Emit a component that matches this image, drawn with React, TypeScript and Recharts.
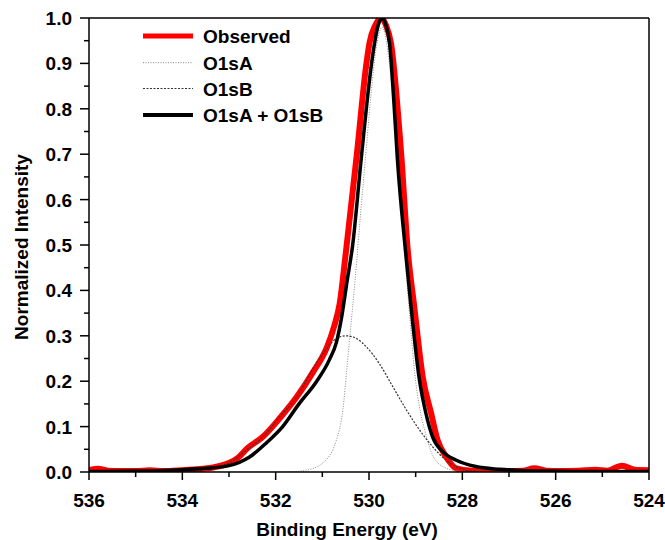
import React from 'react';
import { LineChart, Line, XAxis, YAxis, Legend } from 'recharts';

const FONT = '"Liberation Sans", Arial, Helvetica, sans-serif';

// Observed O1s spectrum
const observedEnergy = [536, 535.8, 535.6, 535.3, 535.0, 534.7, 534.4, 534.0, 533.7, 533.35, 533.0, 532.8, 532.6, 532.28, 531.9, 531.55, 531.2, 530.9, 530.75, 530.63, 530.49, 530.26, 530.06, 529.99, 529.86, 529.74, 529.64, 529.53, 529.31, 529.17, 529.03, 528.85, 528.67, 528.53, 528.35, 528.13, 527.8, 527.4, 527.0, 526.7, 526.46, 526.2, 525.9, 525.5, 525.15, 524.9, 524.58, 524.3, 524.0];
const observedIntensity = [0.004, 0.007, 0.003, 0.002, 0.002, 0.004, 0.002, 0.004, 0.006, 0.01, 0.02, 0.032, 0.053, 0.077, 0.12, 0.165, 0.22, 0.275, 0.32, 0.37, 0.489, 0.7, 0.896, 0.945, 0.985, 1.0, 0.985, 0.945, 0.7, 0.489, 0.364, 0.21, 0.13, 0.07, 0.034, 0.008, 0.003, 0.002, 0.002, 0.003, 0.008, 0.003, 0.002, 0.003, 0.005, 0.003, 0.014, 0.005, 0.004];

// O1sA component (narrow)
const o1sAEnergy = [533.5, 532.5, 531.6, 531.34, 530.99, 530.7, 530.56, 530.47, 530.4, 530.3, 530.18, 530.06, 529.95, 529.85, 529.72, 529.6, 529.45, 529.3, 529.15, 529.0, 528.92, 528.81, 528.67, 528.42, 528.13, 527.8, 527.0];
const o1sAIntensity = [0, 0, 0.001, 0.004, 0.02, 0.07, 0.137, 0.232, 0.31, 0.42, 0.57, 0.71, 0.84, 0.93, 0.98, 0.93, 0.78, 0.57, 0.37, 0.2, 0.144, 0.093, 0.045, 0.012, 0.003, 0.001, 0];

// O1sB component (broad)
const o1sBEnergy = [534.0, 533.4, 533.0, 532.6, 532.28, 531.91, 531.55, 531.2, 530.99, 530.75, 530.49, 530.25, 530.06, 529.78, 529.49, 529.2, 528.92, 528.64, 528.35, 528.06, 527.8, 527.5];
const o1sBIntensity = [0.001, 0.008, 0.02, 0.05, 0.077, 0.122, 0.165, 0.228, 0.26, 0.29, 0.3, 0.293, 0.276, 0.239, 0.188, 0.137, 0.093, 0.056, 0.026, 0.008, 0.002, 0];

// O1sA + O1sB fit
const sumEnergy = [536, 535, 534.5, 534, 533.5, 533.0, 532.56, 532.2, 531.85, 531.5, 531.12, 530.85, 530.7, 530.58, 530.47, 530.35, 530.17, 529.95, 529.88, 529.8, 529.72, 529.64, 529.56, 529.47, 529.39, 529.22, 529.1, 528.92, 528.78, 528.64, 528.42, 528.13, 527.71, 527.2, 526.64, 526.0, 525.0, 524.0];
const sumIntensity = [0.001, 0.002, 0.003, 0.005, 0.008, 0.014, 0.033, 0.064, 0.1, 0.15, 0.2, 0.247, 0.285, 0.345, 0.42, 0.5, 0.687, 0.896, 0.945, 0.985, 1.0, 0.985, 0.945, 0.82, 0.687, 0.489, 0.364, 0.203, 0.129, 0.078, 0.045, 0.026, 0.012, 0.006, 0.003, 0.002, 0.001, 0.001];

const xTicks = [524, 525, 526, 527, 528, 529, 530, 531, 532, 533, 534, 535, 536];
const yTicks = Array.from({ length: 21 }, (_, i) => i * 0.05);

const toPoints = (xs: number[], ys: number[]) => xs.map((x, i) => ({ x, y: ys[i] }));

const series = [
  { name: 'Observed', data: toPoints(observedEnergy, observedIntensity), stroke: '#ff0000', width: 6, dash: undefined },
  { name: 'O1sA', data: toPoints(o1sAEnergy, o1sAIntensity), stroke: '#8a8a8a', width: 1, dash: '1 1.5' },
  { name: 'O1sB', data: toPoints(o1sBEnergy, o1sBIntensity), stroke: '#333333', width: 1.2, dash: '2 1.5' },
  { name: 'O1sA + O1sB', data: toPoints(sumEnergy, sumIntensity), stroke: '#000000', width: 3.5, dash: undefined },
];

function BottomTick(props: any) {
  const { x, y, payload } = props;
  const v = payload.value;
  const major = Math.round(v) % 2 === 0;
  const axisY = y - 9;
  return (
    <g>
      <line x1={x} x2={x} y1={axisY} y2={axisY + (major ? 8 : 5)} stroke="#000" strokeWidth={1.5} />
      {major && (
        <text x={x} y={axisY + 35} textAnchor="middle" fontSize={19} fontWeight="bold" fontFamily={FONT} fill="#000">
          {v}
        </text>
      )}
    </g>
  );
}

function LeftTick(props: any) {
  const { x, y, payload } = props;
  const v = payload.value;
  const major = Math.round(v * 100) % 10 === 0;
  const axisX = x + 17;
  return (
    <g>
      <line x1={axisX} x2={axisX - (major ? 9 : 5)} y1={y} y2={y} stroke="#000" strokeWidth={1.5} />
      {major && (
        <text x={x} y={y} dy={7} textAnchor="end" fontSize={19} fontWeight="bold" fontFamily={FONT} fill="#000">
          {v.toFixed(1)}
        </text>
      )}
    </g>
  );
}

function TopTick(props: any) {
  const { x, y } = props;
  return <line x1={x} x2={x} y1={y + 3} y2={y} stroke="#000" strokeWidth={1.5} />;
}

function RightTick(props: any) {
  const { x, y } = props;
  return <line x1={x - 3} x2={x} y1={y} y2={y} stroke="#000" strokeWidth={1.5} />;
}

function LegendBox() {
  const rows = [36, 62.7, 88.5, 115];
  return (
    <svg width={400} height={140} style={{ display: 'block' }}>
      {series.map((s, i) => (
        <g key={s.name}>
          <line x1={143} x2={193} y1={rows[i]} y2={rows[i]} stroke={s.stroke} strokeWidth={s.name === 'Observed' ? 5 : s.width === 3.5 ? 4 : s.width} strokeDasharray={s.dash} />
          <text x={203} y={rows[i]} dy={7} fontSize={19} fontWeight="bold" fontFamily={FONT} fill="#000">
            {s.name}
          </text>
        </g>
      ))}
    </svg>
  );
}

export default function App() {
  return (
    <div style={{ position: 'absolute', left: 0, top: 0, background: '#fff' }}>
      <LineChart width={665} height={540} margin={{ top: 12, right: 10, bottom: 8, left: 9 }}>
        <XAxis
          dataKey="x"
          type="number"
          domain={[524, 536]}
          reversed
          ticks={xTicks}
          interval={0}
          height={60}
          tickSize={9}
          tickMargin={0}
          tickLine={false}
          tick={<BottomTick />}
          axisLine={{ stroke: '#000', strokeWidth: 1.5 }}
          allowDataOverflow
          label={{
            content: () => (
              <text x={347} y={536} textAnchor="middle" fontSize={19} fontWeight="bold" fontFamily={FONT} fill="#000">
                Binding Energy (eV)
              </text>
            ),
          }}
        />
        <XAxis
          xAxisId="top"
          orientation="top"
          dataKey="x"
          type="number"
          domain={[524, 536]}
          reversed
          ticks={xTicks}
          interval={0}
          height={6}
          tickSize={0}
          tickMargin={0}
          tickLine={false}
          tick={<TopTick />}
          axisLine={{ stroke: '#000', strokeWidth: 1.5 }}
        />
        <YAxis
          type="number"
          domain={[0, 1]}
          ticks={yTicks}
          interval={0}
          width={80}
          tickSize={9}
          tickMargin={8}
          tickLine={false}
          tick={<LeftTick />}
          axisLine={{ stroke: '#000', strokeWidth: 1.5 }}
          allowDataOverflow
          label={{
            content: () => (
              <text
                x={21}
                y={247}
                dy={7}
                transform="rotate(-90, 21, 247)"
                textAnchor="middle"
                fontSize={19}
                fontWeight="bold"
                fontFamily={FONT}
                fill="#000"
              >
                Normalized Intensity
              </text>
            ),
          }}
        />
        <YAxis
          yAxisId="right"
          orientation="right"
          type="number"
          domain={[0, 1]}
          ticks={yTicks}
          interval={0}
          width={6}
          tickSize={0}
          tickMargin={0}
          tickLine={false}
          tick={<RightTick />}
          axisLine={{ stroke: '#000', strokeWidth: 1.5 }}
        />
        <Legend
          layout="vertical"
          align="center"
          verticalAlign="middle"
          content={() => <LegendBox />}
          wrapperStyle={{ left: 0, top: 0, width: 400, height: 140 }}
        />
        {series.map((s) => (
          <Line
            key={s.name}
            data={s.data}
            dataKey="y"
            name={s.name}
            type="monotone"
            stroke={s.stroke}
            strokeWidth={s.width}
            strokeDasharray={s.dash}
            strokeLinejoin="round"
            dot={false}
            activeDot={false}
            isAnimationActive={false}
          />
        ))}
      </LineChart>
    </div>
  );
}
